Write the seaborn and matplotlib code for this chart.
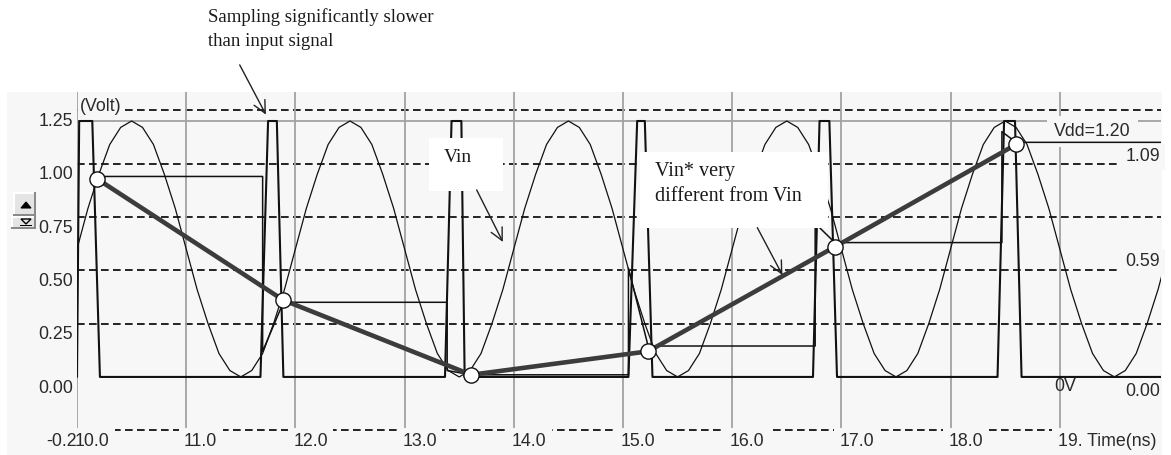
import numpy as np
import pandas as pd
import matplotlib
matplotlib.use("Agg")
import matplotlib.pyplot as plt
import seaborn as sns
from matplotlib.patches import Rectangle, Polygon

# ---------------- data ----------------
# input sine Vin, sampled every 0.1 ns from 10.0 ns
vin_t0 = 10.0
vin_dt = 0.1
vin_v = [0.60, 0.79, 0.95, 1.09, 1.17, 1.20, 1.17, 1.09, 0.95, 0.79,
         0.60, 0.41, 0.25, 0.11, 0.03, 0.00, 0.03, 0.11, 0.25, 0.41,
         0.60, 0.79, 0.95, 1.09, 1.17, 1.20, 1.17, 1.09, 0.95, 0.79,
         0.60, 0.41, 0.25, 0.11, 0.03, 0.00, 0.03, 0.11, 0.25, 0.41,
         0.60, 0.79, 0.95, 1.09, 1.17, 1.20, 1.17, 1.09, 0.95, 0.79,
         0.60, 0.41, 0.25, 0.11, 0.03, 0.00, 0.03, 0.11, 0.25, 0.41,
         0.60, 0.79, 0.95, 1.09, 1.17, 1.20, 1.17, 1.09, 0.95, 0.79,
         0.60, 0.41, 0.25, 0.11, 0.03, 0.00, 0.03, 0.11, 0.25, 0.41,
         0.60, 0.79, 0.95, 1.09, 1.17, 1.20, 1.17, 1.09, 0.95, 0.79,
         0.60, 0.41, 0.25, 0.11, 0.03, 0.00, 0.03, 0.11, 0.25, 0.41,
         0.60]

# sampling clock pulses
clk_t = [10.00, 10.02, 10.14, 10.21,
         11.68, 11.75, 11.83, 11.89,
         13.37, 13.43, 13.52, 13.55,
         15.05, 15.13, 15.20, 15.27,
         16.74, 16.80, 16.89, 16.96,
         18.43, 18.49, 18.59, 18.65,
         20.00]
clk_v = [0.0, 1.2, 1.2, 0.0,
         0.0, 1.2, 1.2, 0.0,
         0.0, 1.2, 1.2, 0.0,
         0.0, 1.2, 1.2, 0.0,
         0.0, 1.2, 1.2, 0.0,
         0.0, 1.2, 1.2, 0.0,
         0.0]

# sample-and-hold output Vin*
hold_t = [10.18, 11.70, 11.70, 11.89, 13.39, 13.39, 13.61, 15.05, 15.05,
          15.23, 16.76, 16.76, 16.94, 18.47, 18.47, 18.60, 20.00]
hold_v = [0.94, 0.94, 0.12, 0.35, 0.35, 0.03, 0.01, 0.01, 0.51,
          0.145, 0.145, 0.72, 0.63, 0.63, 1.15, 1.10, 1.10]

# sampled points (circles) joined by thick line
sample_t = [10.18, 11.89, 13.61, 15.23, 16.94, 18.60]
sample_v = [0.93, 0.36, 0.01, 0.12, 0.61, 1.09]

y_ticks = [1.25, 1.00, 0.75, 0.50, 0.25, 0.00]
y_tick_labels = ["1.25", "1.00", "0.75", "0.50", "0.25", "0.00"]
grid_levels = [1.25, 1.00, 0.75, 0.50, 0.25, -0.25]
x_ticks = [10, 11, 12, 13, 14, 15, 16, 17, 18, 19]
x_tick_labels = ["10.0", "11.0", "12.0", "13.0", "14.0", "15.0", "16.0",
                 "17.0", "18.0", "19. Time(ns)"]

# ---------------- style ----------------
sns.set_style("white")
plt.rcParams["font.family"] = ["Liberation Sans", "DejaVu Sans"]

W, H = 1171, 455
PANEL = "#f7f7f7"
fig = plt.figure(figsize=(W / 100, H / 100), dpi=100)
fig.patch.set_facecolor("white")


def fpx(x, y):
    return (x / W, 1 - y / H)


# light gray panel
fig.add_artist(Rectangle(fpx(7, 455), (1162 - 7) / W, (455 - 92) / H,
                         transform=fig.transFigure, facecolor=PANEL,
                         edgecolor="none", zorder=0))

ax = fig.add_axes([77 / W, 0, (1161 - 77) / W, (455 - 92) / H])
ax.set_facecolor("none")
ax.set_xlim(10.0, 19.927)
ax.set_ylim(-0.366, 1.336)
for s in ax.spines.values():
    s.set_visible(False)
ax.set_xticks([])
ax.set_yticks([])
ax.grid(False)

# grid
for lv in grid_levels:
    ax.axhline(lv, color="black", lw=1.2, ls=(0, (4.6, 2.6)), zorder=1)
ax.vlines(x_ticks, -0.25, 1.336, color="#a2a2a2", lw=1.3, zorder=1)
ax.axhline(1.2, color="#a2a2a2", lw=1.3, zorder=1)

# tick labels
TXT = "#2a2a2a"
for v, lab in zip(y_ticks, y_tick_labels):
    ax.text(9.963, v - 0.052, lab, ha="right", va="center", fontsize=12.8,
            color=TXT, clip_on=False, zorder=2)
for t, lab in zip(x_ticks, x_tick_labels):
    ax.text(t - 0.02, -0.305, lab, ha="left", va="center", fontsize=12.8,
            color=TXT, clip_on=False, zorder=2,
            bbox=dict(boxstyle="square,pad=0.3", fc=PANEL, ec="none"))
ax.text(10.0 - 0.005, -0.305, "-0.2", ha="right", va="center", fontsize=12.8,
        color=TXT, clip_on=False, zorder=2.6)
ax.text(10.03, 1.268, "(Volt)", ha="left", va="center", fontsize=12.8,
        color=TXT, zorder=2,
        bbox=dict(boxstyle="square,pad=0.1", fc=PANEL, ec="none"))

# right-side labels
ax.text(18.95, 1.149, "Vdd=1.20", ha="left", va="center", fontsize=12.8,
        color=TXT, zorder=2,
        bbox=dict(boxstyle="square,pad=0.4", fc=PANEL, ec="none"))
ax.text(19.92, 1.032, "1.09", ha="right", va="center", fontsize=12.8,
        color=TXT, zorder=2,
        bbox=dict(boxstyle="square,pad=0.25", fc=PANEL, ec="none"))
ax.text(19.92, 0.539, "0.59", ha="right", va="center", fontsize=12.8,
        color=TXT, zorder=2,
        bbox=dict(boxstyle="square,pad=0.25", fc=PANEL, ec="none"))
ax.text(18.95, -0.047, "0V", ha="left", va="center", fontsize=12.8,
        color=TXT, zorder=2)
ax.text(19.92, -0.07, "0.00", ha="right", va="center", fontsize=12.8,
        color=TXT, zorder=2)

# ---------------- signals ----------------
vin_t = np.round(vin_t0 + vin_dt * np.arange(len(vin_v)), 3)
df_vin = pd.DataFrame({"t": vin_t, "v": vin_v})
df_clk = pd.DataFrame({"t": clk_t, "v": clk_v})
df_hold = pd.DataFrame({"t": hold_t, "v": hold_v})
df_s = pd.DataFrame({"t": sample_t, "v": sample_v})

sns.lineplot(data=df_vin, x="t", y="v", estimator=None, sort=False, ax=ax,
             color="#111111", lw=0.9, zorder=3)
sns.lineplot(data=df_clk, x="t", y="v", estimator=None, sort=False, ax=ax,
             color="#111111", lw=1.5, zorder=3)
sns.lineplot(data=df_hold, x="t", y="v", estimator=None, sort=False, ax=ax,
             color="#111111", lw=1.1, zorder=3.5)
sns.lineplot(data=df_s, x="t", y="v", estimator=None, sort=False, ax=ax,
             color="#3c3c3c", lw=3.3, zorder=4)
sns.scatterplot(data=df_s, x="t", y="v", ax=ax, s=120, color="white",
                edgecolor="#111111", linewidth=1.0, zorder=5)
ax.set_xlabel("")
ax.set_ylabel("")
ax.set_xlim(10.0, 19.927)
ax.set_ylim(-0.366, 1.336)

# ---------------- annotations ----------------
SERIF = ["Liberation Serif", "DejaVu Serif"]
ax.add_patch(Rectangle((13.22, 0.872), 0.68, 0.248, facecolor="white",
                       edgecolor="none", zorder=6))
ax.text(13.36, 1.027, "Vin", family=SERIF, fontsize=14, color="#1a1a1a",
        ha="left", va="center", zorder=7)
ax.annotate("", xy=(13.90, 0.633), xytext=(13.66, 0.877),
            arrowprops=dict(arrowstyle="->", color="#222222", lw=1.0,
                            mutation_scale=22, shrinkA=0, shrinkB=0),
            zorder=7)

ax.add_patch(Rectangle((15.155, 0.70), 1.72, 0.356, facecolor="white",
                       edgecolor="none", zorder=6))
ax.text(15.29, 0.961, "Vin* very", family=SERIF, fontsize=14.5,
        color="#1a1a1a", ha="left", va="center", zorder=7)
ax.text(15.29, 0.844, "different from Vin", family=SERIF, fontsize=14.5,
        color="#1a1a1a", ha="left", va="center", zorder=7)
ax.annotate("", xy=(16.46, 0.478), xytext=(16.23, 0.70),
            arrowprops=dict(arrowstyle="->", color="#222222", lw=1.0,
                            mutation_scale=22, shrinkA=0, shrinkB=0),
            zorder=7)

ax.text(11.20, 1.688, "Sampling significantly slower", family=SERIF,
        fontsize=13.5, color="#1a1a1a", ha="left", va="center",
        clip_on=False, zorder=7)
ax.text(11.20, 1.571, "than input signal", family=SERIF, fontsize=13.5,
        color="#1a1a1a", ha="left", va="center", clip_on=False, zorder=7)
ax.annotate("", xy=(11.73, 1.23), xytext=(11.49, 1.463),
            arrowprops=dict(arrowstyle="->", color="#222222", lw=1.0,
                            mutation_scale=22, shrinkA=0, shrinkB=0),
            annotation_clip=False, zorder=7)

# ---------------- spinner buttons ----------------
def frect(x0, y0, x1, y1, **kw):
    fig.add_artist(Rectangle(fpx(x0, y1), (x1 - x0) / W, (y1 - y0) / H,
                             transform=fig.transFigure, **kw))


def fpoly(pts, **kw):
    fig.add_artist(Polygon([fpx(x, y) for x, y in pts], closed=True,
                           transform=fig.transFigure, **kw))


frect(13, 192, 36, 216, facecolor="#8a8a8a", edgecolor="none", zorder=3)
frect(13, 192, 34, 214, facecolor="white", edgecolor="none", zorder=3)
frect(15, 194, 34, 214, facecolor="#e4e4e4", edgecolor="none", zorder=3)
fpoly([(21, 208), (31, 208), (26, 202)], facecolor="black",
      edgecolor="black", lw=0.8, zorder=4)
frect(11, 216, 36, 229, facecolor="#8a8a8a", edgecolor="none", zorder=3)
frect(11, 216, 34, 227, facecolor="white", edgecolor="none", zorder=3)
frect(13, 218, 34, 227, facecolor="#e4e4e4", edgecolor="none", zorder=3)
fpoly([(21, 219), (31, 219), (26, 224)], facecolor="none",
      edgecolor="black", lw=1.0, zorder=4)
frect(20, 225, 32, 226.3, facecolor="black", edgecolor="none", zorder=4)

fig.savefig("out.png", dpi=100)
